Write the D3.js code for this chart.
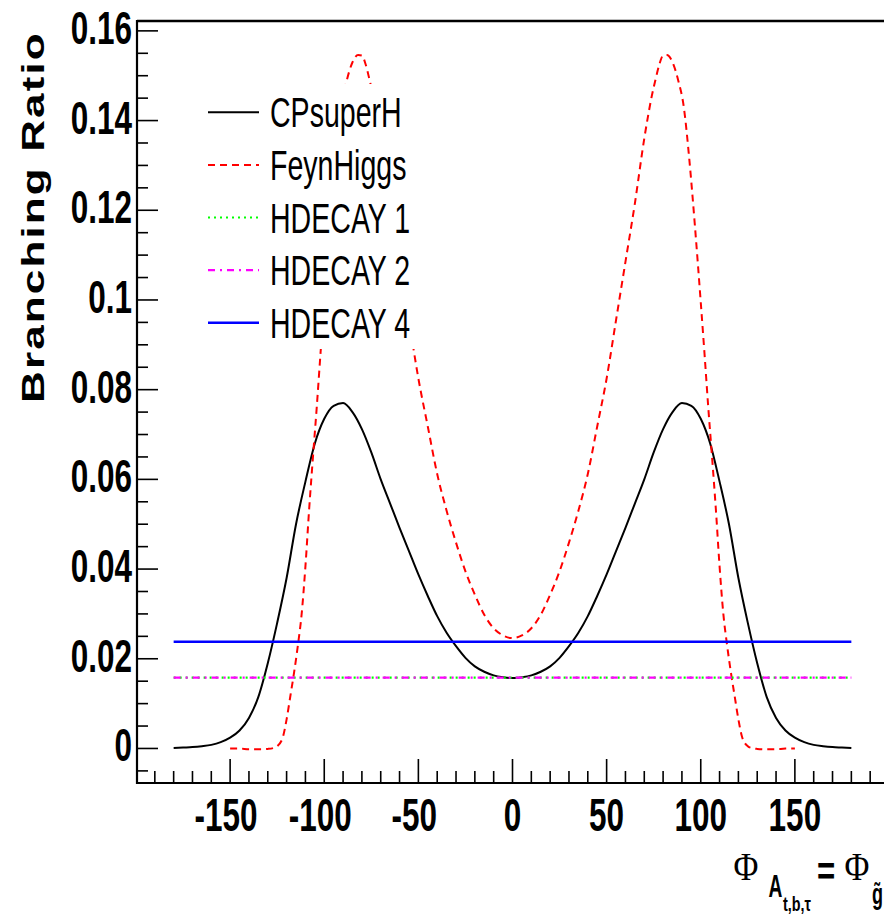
<!DOCTYPE html>
<html>
<head>
<meta charset="utf-8">
<script src="https://cdn.jsdelivr.net/npm/d3@7"></script>
<style>
  html, body { margin: 0; padding: 0; background: #fff; }
  svg { display: block; }
</style>
</head>
<body>
<svg id="chart" width="884" height="917"></svg>
<script>
// ---------------- DATA ----------------
const phiCPsuperH = [-180,-175,-170,-165,-160,-155,-150,-145,-140,-135,-130,-125,-120,-115,-110,-105,-100,-95,-90,-85,-80,-75,-70,-65,-60,-55,-50,-45,-40,-35,-30,-25,-20,-15,-10,-5,0,
  5,10,15,20,25,30,35,40,45,50,55,60,65,70,75,80,85,90,95,100,105,110,115,120,125,130,135,140,145,150,155,160,165,170,175,180];
const brCPsuperH = [0.0001,0.0002,0.0003,0.0005,0.0008,0.0014,0.0024,0.0040,0.0068,0.0115,0.0190,0.0280,0.0380,0.0500,0.0595,0.0680,0.0735,0.0764,0.0770,0.0750,0.0712,0.0660,0.0600,0.0546,0.0492,0.0440,0.0388,0.0340,0.0295,0.0258,0.0228,0.0202,0.0183,0.0171,0.0163,0.0159,0.0157,
  0.0159,0.0163,0.0171,0.0183,0.0202,0.0228,0.0258,0.0295,0.0340,0.0388,0.0440,0.0492,0.0546,0.0600,0.0660,0.0712,0.0750,0.0770,0.0764,0.0735,0.0680,0.0595,0.0500,0.0380,0.0280,0.0190,0.0115,0.0068,0.0040,0.0024,0.0014,0.0008,0.0005,0.0003,0.0002,0.0001];

const phiFeynHiggs = [-150,-145,-140,-135,-130,-127,-125,-122,-120,-118,-116,-114,-112,-110,-108,-106,-104,-102,-100,-97,-94,-91,-88,-85,-82,-80,-78,-76,-74,-72,-70,-65,-60,-55,-50,-45,-40,-35,-30,-25,-20,-15,-10,-5,0,
  5,10,15,20,25,30,35,40,45,50,55,60,65,70,72,74,76,78,80,82,85,88,91,94,97,100,102,104,106,108,110,112,114,116,118,120,122,125,127,130,135,140,145,150];
const brFeynHiggs = [0.0000,0.0000,-0.0002,-0.0002,-0.0001,0.0001,0.0005,0.0025,0.0065,0.0117,0.0170,0.0230,0.0300,0.0406,0.0535,0.0650,0.0760,0.0880,0.0995,0.1160,0.1310,0.1430,0.1490,0.1530,0.1546,0.1545,0.1525,0.1492,0.1455,0.1410,0.1360,0.1215,0.1085,0.0955,0.0825,0.0718,0.0612,0.0530,0.0459,0.0395,0.0343,0.0298,0.0268,0.0252,0.0246,
  0.0252,0.0268,0.0298,0.0343,0.0395,0.0459,0.0530,0.0612,0.0718,0.0825,0.0955,0.1085,0.1215,0.1360,0.1410,0.1455,0.1492,0.1525,0.1545,0.1546,0.1530,0.1490,0.1430,0.1310,0.1160,0.0995,0.0880,0.0760,0.0650,0.0535,0.0406,0.0300,0.0230,0.0170,0.0117,0.0065,0.0025,0.0005,0.0001,-0.0001,-0.0002,-0.0002,0.0000,0.0000];

const phiHdecay = [-180, 180];
const brHdecay1 = [0.0158, 0.0158];
const brHdecay2 = [0.0158, 0.0158];
const brHdecay4 = [0.0238, 0.0238];

const xTickValues = [-150, -100, -50, 0, 50, 100, 150];
const xTickLabels = ["-150", "-100", "-50", "0", "50", "100", "150"];
const yTickValues = [0, 0.02, 0.04, 0.06, 0.08, 0.1, 0.12, 0.14, 0.16];
const yTickLabels = ["0", "0.02", "0.04", "0.06", "0.08", "0.1", "0.12", "0.14", "0.16"];

const legendLabels = ["CPsuperH", "FeynHiggs", "HDECAY 1", "HDECAY 2", "HDECAY 4"];

// ---------------- CHART ----------------
const svg = d3.select("#chart");
const X0 = 137, X1 = 889, Y0 = 783, Y1 = 21;
const x = d3.scaleLinear().domain([-200, 200]).range([X0 - 1, X1]);
const y = d3.scaleLinear().domain([-0.0077, 0.1622]).range([Y0, Y1]);

const SANS = "'Liberation Sans', Arial, Helvetica, sans-serif";
const SERIF = "'Liberation Serif', 'Times New Roman', serif";

function txt(px, py, s, o) {
  o = o || {};
  const t = svg.append("text")
    .attr("transform", `translate(${px},${py})` + (o.rot ? ` rotate(${o.rot})` : "") + ` scale(${o.sx || 1},1)`)
    .attr("font-family", o.family || SANS)
    .attr("font-size", o.size || 20)
    .attr("font-weight", o.weight || "normal")
    .attr("text-anchor", o.anchor || "start")
    .attr("fill", "#000")
    .text(s);
  if (o.ls) t.attr("letter-spacing", o.ls);
  return t;
}

// series
const series = [
  { phi: phiCPsuperH, br: brCPsuperH, color: "#000000", dash: null, w: 2 },
  { phi: phiFeynHiggs, br: brFeynHiggs, color: "#ff0000", dash: "7 5", w: 2 },
  { phi: phiHdecay, br: brHdecay1, color: "#00ff00", dash: "2 4", w: 2.2 },
  { phi: phiHdecay, br: brHdecay2, color: "#ff00ff", dash: "7 5 2 5", w: 2.2 },
  { phi: phiHdecay, br: brHdecay4, color: "#0000ff", dash: null, w: 2.4 }
];

const line = d3.line().x(d => x(d[0])).y(d => y(d[1])).curve(d3.curveMonotoneX);
series.forEach(s => {
  const pts = s.phi.map((p, i) => [p, s.br[i]]);
  const p = svg.append("path")
    .attr("d", line(pts))
    .attr("fill", "none")
    .attr("stroke", s.color)
    .attr("stroke-width", s.w);
  if (s.dash) p.attr("stroke-dasharray", s.dash);
});

// legend (white box covers curves)
const legY0 = 112.3, legStep = 52.6;
svg.append("rect").attr("x", 196).attr("y", 84).attr("width", 226).attr("height", 265).attr("fill", "#fff");
series.forEach((s, i) => {
  const ly = legY0 + i * legStep;
  const l = svg.append("line")
    .attr("x1", 208).attr("x2", 259).attr("y1", ly).attr("y2", ly)
    .attr("stroke", s.color).attr("stroke-width", s.w);
  if (s.dash) l.attr("stroke-dasharray", s.dash);
  txt(270, ly + 15, legendLabels[i], { size: 42, sx: 0.68 });
});

// axes frame
svg.append("line").attr("x1", X0).attr("x2", 884).attr("y1", Y1).attr("y2", Y1).attr("stroke", "#000").attr("stroke-width", 2.5);
svg.append("line").attr("x1", X0).attr("x2", X0).attr("y1", Y1 - 1).attr("y2", Y0 + 1).attr("stroke", "#000").attr("stroke-width", 2.2);
svg.append("line").attr("x1", X0 - 1).attr("x2", 884).attr("y1", Y0).attr("y2", Y0).attr("stroke", "#000").attr("stroke-width", 2.2);

// x ticks
const xMinor = d3.range(-190, 191, 10);
svg.append("g").selectAll("line").data(xMinor).join("line")
  .attr("x1", d => x(d)).attr("x2", d => x(d))
  .attr("y1", Y0).attr("y2", d => (d % 50 === 0) ? Y0 - 24 : Y0 - 12)
  .attr("stroke", "#000").attr("stroke-width", 1.6);
xTickValues.forEach((v, i) => {
  txt(x(v) - (v < 0 ? 4 : 0), 831, xTickLabels[i], { size: 47, weight: "bold", anchor: "middle", sx: 0.67 });
});

// y ticks
const yMinor = d3.range(-0.005, 0.1601, 0.005).map(v => Math.round(v * 1000) / 1000);
svg.append("g").selectAll("line").data(yMinor).join("line")
  .attr("y1", d => y(d)).attr("y2", d => y(d))
  .attr("x1", X0).attr("x2", d => (Math.round(d * 1000) % 20 === 0) ? X0 + 21 : X0 + 11)
  .attr("stroke", "#000").attr("stroke-width", 1.6);
yTickValues.forEach((v, i) => {
  txt(132, y(v) + 13, yTickLabels[i], { size: 47, weight: "bold", anchor: "end", sx: 0.67 });
});

// y title
txt(44, 403, "Branching Ratio", { size: 31, weight: "bold", rot: -90, sx: 1.42, ls: 1.5 });

// x title: Φ_{A_{t,b,τ}} = Φ_{g̃}
txt(746, 880, "Φ", { size: 40, family: SERIF, anchor: "middle", sx: 0.85 });
txt(775.5, 897, "A", { size: 32, weight: "bold", anchor: "middle", sx: 0.6 });
txt(783, 911, "t,b,τ", { size: 20, weight: "bold", sx: 0.72 });
txt(826, 885, "=", { size: 40, weight: "bold", anchor: "middle", sx: 0.78 });
txt(857, 880, "Φ", { size: 40, family: SERIF, anchor: "middle", sx: 0.85 });
txt(877.5, 904, "g\u0303", { size: 30, weight: "bold", anchor: "middle", sx: 0.6 });
</script>
</body>
</html>
